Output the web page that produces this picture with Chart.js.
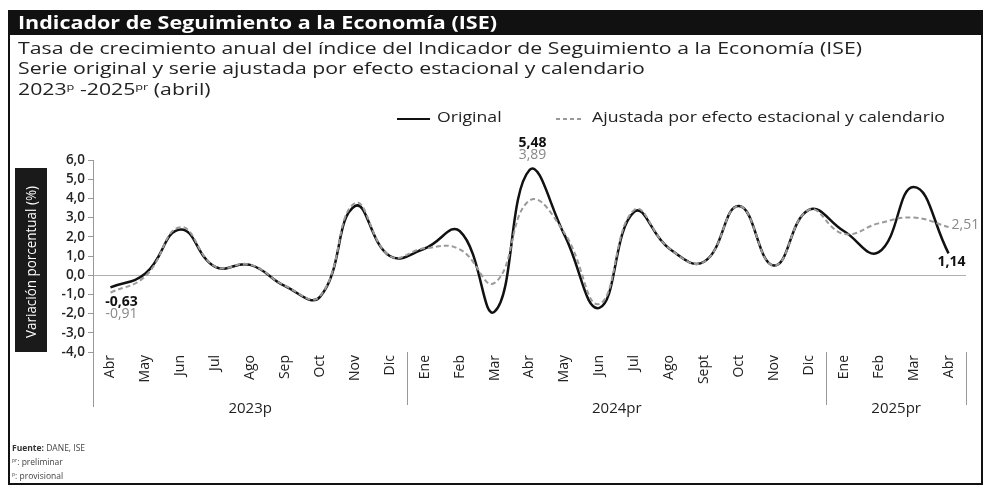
<!DOCTYPE html>
<html>
<head>
<meta charset="utf-8">
<script src="https://cdn.jsdelivr.net/npm/chart.js@4.4.1/dist/chart.umd.min.js"></script>
<style>
  html, body { margin: 0; padding: 0; background: #fff; }
  #wrap { width: 992px; height: 490px; }
</style>
</head>
<body>
<div id="wrap"><canvas id="ise" width="992" height="490"></canvas></div>
<script>
// ISE: annual growth, original vs seasonally adjusted series
const months = ['Abr','May','Jun','Jul','Ago','Sep','Oct','Nov','Dic',
  'Ene','Feb','Mar','Abr','May','Jun','Jul','Ago','Sept','Oct','Nov','Dic',
  'Ene','Feb','Mar','Abr'];
const original = [-0.63, 0.09, 2.38, 0.43, 0.54, -0.57, -1.13, 3.60, 1.00,
  1.39, 2.30, -1.90, 5.48, 2.10, -1.70, 3.30, 1.39, 0.70, 3.60, 0.50, 3.40,
  2.30, 1.20, 4.60, 1.14];
const adjusted = [-0.91, -0.05, 2.50, 0.45, 0.55, -0.55, -1.10, 3.75, 1.00,
  1.40, 1.35, -0.40, 3.89, 2.20, -1.50, 3.40, 1.40, 0.70, 3.60, 0.50, 3.40,
  2.15, 2.70, 3.00, 2.51];
const yearGroups = ['2023p', '2024pr', '2025pr'];
const yearSpans = [9, 12, 4];
const yMin = -4, yMax = 6, yStep = 1;

const FONT = "'Open Sans', 'Noto Sans', sans-serif";
const fmt = v => v.toFixed(2).replace('.', ',');

// horizontal stretch so a text spans the wanted width at a fixed height
function stretchOf(ctx, text, size, weight, width) {
  ctx.font = `${weight} ${size}px ${FONT}`;
  return width / ctx.measureText(text).width;
}

// draw runs of [text, superscript?] left to right
function drawRuns(ctx, runs, x, y, size, weight, color) {
  ctx.fillStyle = color;
  ctx.textBaseline = 'middle';
  ctx.textAlign = 'left';
  runs.forEach(([t, sup]) => {
    const s = sup ? size * 0.6 : size;
    ctx.font = `${weight} ${s}px ${FONT}`;
    ctx.fillText(t, x, sup ? y - size * 0.25 : y);
    x += ctx.measureText(t).width;
  });
}

const decor = {
  id: 'decor',
  beforeDraw(chart) {
    const ctx = chart.ctx;
    ctx.save();
    ctx.fillStyle = '#fff';
    ctx.fillRect(0, 0, chart.width, chart.height);
    ctx.restore();
  },
  afterDraw(chart) {
    const ctx = chart.ctx;
    const xs = chart.scales.x, ys = chart.scales.y;
    const area = chart.chartArea;
    ctx.save();
    ctx.textBaseline = 'middle';
    ctx.textAlign = 'left';

    // frame + title bar
    ctx.strokeStyle = '#111';
    ctx.lineWidth = 2;
    ctx.strokeRect(9, 11, 973, 473);
    ctx.fillStyle = '#111';
    ctx.fillRect(9, 11, 973, 24);
    const title = 'Indicador de Seguimiento a la Economía (ISE)';
    let k = stretchOf(ctx, title, 17, 'bold', 479);
    ctx.save();
    ctx.translate(18, 24); ctx.scale(k, 1);
    ctx.fillStyle = '#fff';
    ctx.fillText(title, 0, 0);
    ctx.restore();

    // subtitles
    const sub1 = 'Tasa de crecimiento anual del índice del Indicador de Seguimiento a la Economía (ISE)';
    k = stretchOf(ctx, sub1, 15.5, 'normal', 844);
    ctx.save();
    ctx.translate(18, 0); ctx.scale(k, 1);
    ctx.fillStyle = '#222';
    ctx.fillText(sub1, 0, 50);
    ctx.fillText('Serie original y serie ajustada por efecto estacional y calendario', 0, 70);
    drawRuns(ctx, [['2023'], ['p', true], [' -2025'], ['pr', true], [' (abril)']], 0, 91, 15.5, 'normal', '#222');
    ctx.restore();

    // legend
    ctx.lineWidth = 2;
    ctx.strokeStyle = '#111';
    ctx.beginPath(); ctx.moveTo(397, 119); ctx.lineTo(430, 119); ctx.stroke();
    ctx.strokeStyle = '#999';
    ctx.setLineDash([4, 3]);
    ctx.beginPath(); ctx.moveTo(556, 119); ctx.lineTo(584, 119); ctx.stroke();
    ctx.setLineDash([]);
    const adjName = 'Ajustada por efecto estacional y calendario';
    k = stretchOf(ctx, adjName, 14, 'normal', 353);
    ctx.save();
    ctx.scale(k, 1);
    ctx.fillStyle = '#222';
    ctx.fillText(adjName, 592 / k, 118);
    ctx.fillText('Original', 437 / k, 118);
    ctx.restore();

    // y axis title box
    ctx.fillStyle = '#1a1a1a';
    ctx.fillRect(15, 168, 32, 184);
    const yTitle = 'Variación porcentual (%)';
    k = stretchOf(ctx, yTitle, 14, 'normal', 152);
    ctx.save();
    ctx.translate(31, 262);
    ctx.rotate(-Math.PI / 2);
    ctx.scale(k, 1);
    ctx.fillStyle = '#fff';
    ctx.textAlign = 'center';
    ctx.fillText(yTitle, 0, 1);
    ctx.restore();

    // axis extension and year separators below the plot
    const half = (xs.getPixelForValue(1) - xs.getPixelForValue(0)) / 2;
    ctx.strokeStyle = '#999';
    ctx.lineWidth = 1;
    ctx.beginPath();
    ctx.moveTo(area.left + 0.5, area.bottom);
    ctx.lineTo(area.left + 0.5, 407);
    let idx = 0;
    yearSpans.forEach(span => {
      idx += span;
      const sx = Math.round(xs.getPixelForValue(idx - 1) + half) + 0.5;
      ctx.moveTo(sx, area.bottom);
      ctx.lineTo(sx, 405);
    });
    ctx.stroke();

    // year group labels
    ctx.fillStyle = '#222';
    ctx.textAlign = 'center';
    ctx.font = `normal 15px ${FONT}`;
    idx = 0;
    yearGroups.forEach((g, i) => {
      const mid = (xs.getPixelForValue(idx) + xs.getPixelForValue(idx + yearSpans[i] - 1)) / 2;
      ctx.fillText(g, mid, 409);
      idx += yearSpans[i];
    });

    // data labels (first, peak, last)
    const last = months.length - 1;
    const peak = original.indexOf(Math.max(...original));
    ctx.font = `bold 14px ${FONT}`;
    ctx.fillStyle = '#111';
    let px = xs.getPixelForValue(0), py = ys.getPixelForValue(original[0]);
    ctx.fillText(fmt(original[0]), px + 11, py + 15);
    ctx.font = `normal 14px ${FONT}`;
    ctx.fillStyle = '#888';
    ctx.fillText(fmt(adjusted[0]), px + 11, py + 27);

    px = xs.getPixelForValue(peak); py = ys.getPixelForValue(original[peak]);
    ctx.font = `bold 14px ${FONT}`;
    ctx.fillStyle = '#111';
    ctx.fillText(fmt(original[peak]), px + 3, py - 27);
    ctx.font = `normal 14px ${FONT}`;
    ctx.fillStyle = '#888';
    ctx.fillText(fmt(adjusted[peak]), px + 3, py - 15);

    px = xs.getPixelForValue(last);
    ctx.textAlign = 'left';
    ctx.fillText(fmt(adjusted[last]), px + 3, ys.getPixelForValue(adjusted[last]) - 2);
    ctx.font = `bold 14px ${FONT}`;
    ctx.fillStyle = '#111';
    ctx.fillText(fmt(original[last]), px - 11, ys.getPixelForValue(original[last]) + 9);

    // footnotes
    drawRuns(ctx, [['Fuente:']], 12, 449, 8.5, 'bold', '#333');
    ctx.font = `bold 8.5px ${FONT}`;
    const fw = ctx.measureText('Fuente:').width;
    drawRuns(ctx, [[' DANE, ISE']], 12 + fw, 449, 8.5, 'normal', '#444');
    drawRuns(ctx, [['pr', true], [': preliminar']], 12, 463, 8.5, 'normal', '#444');
    drawRuns(ctx, [['p', true], [': provisional']], 12, 477, 8.5, 'normal', '#444');

    ctx.restore();
  }
};

new Chart(document.getElementById('ise'), {
  type: 'line',
  data: {
    labels: months,
    datasets: [
      {
        label: 'Ajustada por efecto estacional y calendario',
        data: adjusted,
        borderColor: '#9a9a9a',
        borderWidth: 2,
        borderDash: [5, 3],
        pointRadius: 0,
        tension: 0.45,
        fill: false
      },
      {
        label: 'Original',
        data: original,
        borderColor: '#111',
        borderWidth: 2.5,
        pointRadius: 0,
        tension: 0.45,
        fill: false
      }
    ]
  },
  options: {
    responsive: false,
    devicePixelRatio: 1,
    animation: false,
    layout: { padding: { top: 160, right: 26, bottom: 0, left: 0 } },
    plugins: { legend: { display: false }, tooltip: { enabled: false } },
    scales: {
      x: {
        offset: true,
        grid: { display: false, drawTicks: false },
        border: { display: false },
        ticks: {
          autoSkip: false, minRotation: 90, maxRotation: 90, padding: 3,
          color: '#222', font: { family: FONT, size: 14 }
        },
        afterFit: s => { s.height = 138; }
      },
      y: {
        min: yMin, max: yMax,
        grid: {
          color: c => c.tick && c.tick.value === 0 ? '#b0b0b0' : 'rgba(0,0,0,0)',
          tickColor: '#999', tickLength: 5, lineWidth: 1
        },
        border: { display: true, color: '#999' },
        ticks: {
          stepSize: yStep, autoSkip: false, padding: 3, color: '#222',
          font: { family: FONT, size: 13.5, weight: '600' },
          callback: v => v.toFixed(1).replace('.', ',')
        },
        afterFit: s => { s.width = 93; }
      }
    }
  },
  plugins: [decor]
});
</script>
</body>
</html>
